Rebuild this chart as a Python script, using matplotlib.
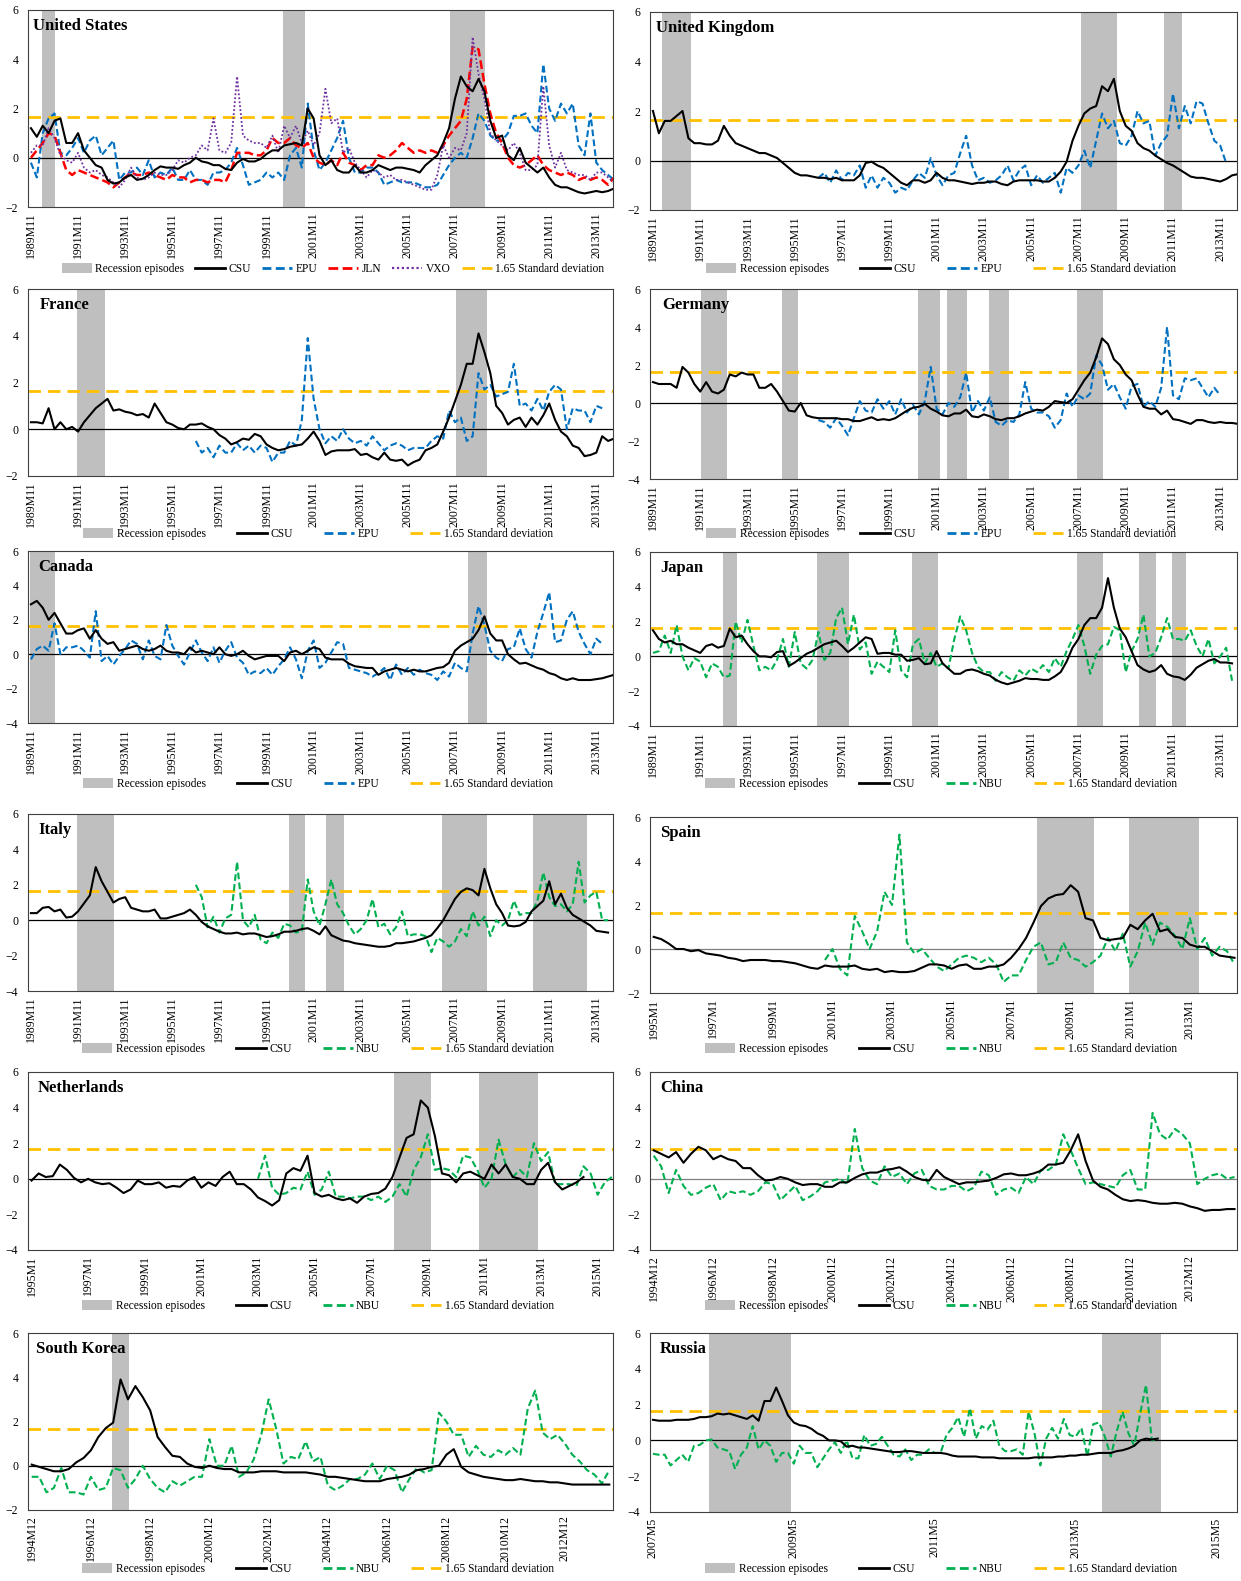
import matplotlib
matplotlib.use("Agg")
import matplotlib.pyplot as plt
import numpy as np
from matplotlib.patches import Patch
from matplotlib.lines import Line2D

plt.rcParams['font.family'] = ['Liberation Serif', 'DejaVu Serif']

W, H = 1241, 1581

# ---------------- data ----------------
# United States: quarterly readings from 1989M11
us_csu = [1.2, 0.85, 1.3, 1.0, 1.5, 1.6, 0.6, 0.6, 1.0, 0.3,
          0.0, -0.3, -0.4, -0.9, -1.05, -1.0, -0.8, -0.7, -0.9, -0.85,
          -0.7, -0.5, -0.35, -0.4, -0.4, -0.45, -0.3, -0.2, 0.0, -0.15,
          -0.2, -0.3, -0.3, -0.45, -0.5, -0.2, -0.05, -0.15, -0.15, -0.05,
          0.15, 0.3, 0.3, 0.5, 0.55, 0.6, 0.5, 2.0, 1.6, 0.1,
          -0.3, -0.1, -0.5, -0.6, -0.6, -0.3, -0.6, -0.6, -0.5, -0.3,
          -0.4, -0.5, -0.4, -0.4, -0.45, -0.5, -0.6, -0.3, -0.1, 0.1,
          0.6, 1.2, 2.4, 3.3, 2.9, 2.7, 3.2, 2.7, 1.5, 0.8,
          0.9, 0.1, -0.1, 0.4, -0.2, -0.4, -0.6, -0.4, -0.8, -1.1,
          -1.2, -1.2, -1.3, -1.4, -1.45, -1.4, -1.35, -1.4, -1.35, -1.25]
us_epu = [-0.2, -0.8, 1.0, 1.6, 1.8, 0.2, 0.1, 0.4, 0.8, 0.2,
          0.7, 0.9, 0.1, 0.4, 0.7, -0.9, -0.6, -0.6, -0.4, -0.7,
          -0.1, -0.8, -0.6, -0.7, -0.4, -0.9, -0.9, -0.5, -0.9, -0.9,
          -1.1, -0.6, -0.6, -0.5, -0.2, 0.4, -0.3, -1.1, -1.0, -0.9,
          -0.6, -0.8, -0.6, -0.9, 0.1, 0.4, -0.4, 2.2, 0.3, -0.5,
          -0.2, 0.3, 0.8, 1.5, 0.0, -0.6, -0.6, -0.4, -0.4, -0.6,
          -1.1, -1.0, -0.9, -1.0, -1.0, -1.0, -1.1, -1.2, -1.2, -1.1,
          -0.7, -0.3, 0.0, 0.2, 0.0, 0.8, 1.8, 1.5, 0.9, 0.7,
          0.7, 1.0, 1.7, 1.7, 1.8, 1.3, 1.0, 3.8, 2.0, 1.5,
          2.2, 1.8, 2.2, 0.5, 0.1, 1.8, -0.2, -0.5, -0.7, -0.9]
us_jln = [0.0, 0.3, 0.6, 1.0, 0.9, 0.2, -0.5, -0.7, -0.5, -0.6,
          -0.7, -0.8, -0.9, -1.0, -1.2, -1.0, -0.8, -0.6, -0.7, -0.7,
          -0.6, -0.7, -0.8, -0.9, -0.7, -0.8, -0.8, -1.0, -0.9, -0.9,
          -1.0, -0.9, -0.9, -1.0, -0.5, 0.2, 0.2, 0.2, 0.1, 0.1,
          0.3, 0.8, 0.6, 0.6, 0.8, 0.5, 0.4, 0.6, 0.0, -0.2,
          -0.3, -0.1, -0.3, 0.2, -0.2, -0.3, -0.5, -0.3, -0.3, 0.1,
          0.0, 0.1, 0.3, 0.6, 0.4, 0.2, 0.3, 0.2, 0.3, 0.2,
          0.5, 0.9, 1.2, 1.5, 2.4, 4.5, 4.4, 3.0, 1.8, 1.0,
          0.6, 0.0, -0.3, -0.4, -0.3, -0.1, 0.1, -0.3, -0.5, -0.6,
          -0.7, -0.6, -0.7, -0.9, -0.8, -0.9, -0.8, -0.9, -1.1, -0.8]
us_vxo = [0.2, 0.5, 0.5, 1.2, 0.8, 0.1, -0.1, -0.2, 0.2, -0.4,
          -0.6, -0.5, -0.7, -0.8, -1.0, -1.2, -0.9, -0.4, -0.8, -0.9,
          -0.8, -0.6, -0.7, -0.7, -0.5, -0.1, -0.2, 0.0, 0.1, 0.5,
          0.3, 1.6, 0.3, 0.2, 0.6, 3.3, 0.9, 0.7, 0.6, 0.6,
          0.4, 0.9, 0.2, 1.3, 0.8, 1.3, 0.6, 1.1, 0.5, 1.0,
          2.8, 1.4, 1.6, 0.2, 0.4, -0.2, -0.5, -0.8, -0.5, -0.6,
          -0.8, -0.7, -0.9, -0.9, -1.0, -1.1, -1.2, -1.3, -1.3, -0.7,
          0.5, 0.0, 0.4, 0.3, 1.0, 4.9, 3.4, 2.4, 1.0, 0.7,
          0.5, 0.3, 0.6, 0.2, -0.5, -0.5, -0.3, 2.9, 0.5, -0.4,
          0.2, -0.5, -0.6, -0.7, -0.7, -0.9, -0.6, -0.6, -0.8, -1.0]
us_rec = [("1990M5", "1990M11"), ("2000M8", "2001M6"), ("2007M9", "2009M2")]

# United Kingdom
uk_csu = [2.0, 1.1, 1.6, 1.6, 1.8, 2.0, 0.9, 0.7, 0.7, 0.65,
          0.65, 0.8, 1.4, 1.0, 0.7, 0.6, 0.5, 0.4, 0.3, 0.3,
          0.2, 0.1, -0.1, -0.3, -0.5, -0.6, -0.6, -0.65, -0.7, -0.7,
          -0.75, -0.7, -0.8, -0.8, -0.8, -0.6, -0.1, -0.05, -0.2, -0.3,
          -0.5, -0.7, -0.9, -1.0, -0.8, -0.8, -0.9, -0.8, -0.5, -0.7,
          -0.8, -0.8, -0.85, -0.9, -0.95, -0.9, -0.9, -0.85, -0.85, -0.95,
          -1.0, -0.85, -0.8, -0.8, -0.8, -0.8, -0.85, -0.85, -0.7, -0.45,
          -0.05, 0.8, 1.4, 1.9, 2.1, 2.2, 3.0, 2.8, 3.3, 2.0,
          1.4, 1.2, 0.7, 0.5, 0.4, 0.2, 0.05, -0.1, -0.2, -0.35,
          -0.5, -0.65, -0.7, -0.7, -0.75, -0.8, -0.85, -0.75, -0.6, -0.55]
uk_epu = [-0.7, -0.5, -0.9, -0.4, -0.8, -0.5, -0.6, -0.2, -1.1, -0.6,
          -1.1, -0.7, -0.9, -1.3, -1.1, -1.2, -0.8, -0.5, -0.7, 0.1,
          -0.6, -1.0, -0.6, -0.5, 0.3, 1.0, -0.2, -0.8, -0.7, -0.9,
          -0.8, -0.6, -0.2, -0.8, -0.4, -0.2, -1.0, -0.6, -0.9, -0.7,
          -0.5, -1.3, -0.3, -0.5, -0.2, 0.4, -0.3, 0.8, 1.9, 1.3,
          1.6, 0.7, 0.6, 1.0, 2.0, 1.5, 1.6, 0.2, 0.7, 1.0,
          2.7, 1.3, 2.2, 1.5, 2.4, 2.3, 1.5, 0.8, 0.6, -0.1]
uk_rec = [("1990M4", "1991M6"), ("2008M1", "2009M6"), ("2011M7", "2012M3")]

# France
fr_csu = [0.3, 0.3, 0.25, 0.9, 0.0, 0.3, 0.0, 0.1, -0.1, 0.3,
          0.6, 0.9, 1.1, 1.3, 0.8, 0.85, 0.75, 0.7, 0.6, 0.65,
          0.5, 1.1, 0.7, 0.3, 0.2, 0.05, 0.0, 0.2, 0.2, 0.25,
          0.1, 0.0, -0.25, -0.4, -0.65, -0.55, -0.4, -0.45, -0.2, -0.3,
          -0.65, -0.8, -0.9, -0.85, -0.75, -0.7, -0.65, -0.4, -0.1, -0.5,
          -1.1, -0.95, -0.9, -0.9, -0.9, -0.85, -1.1, -1.05, -1.2, -1.3,
          -1.0, -1.3, -1.35, -1.3, -1.55, -1.4, -1.3, -0.9, -0.8, -0.65,
          -0.1, 0.5, 1.2, 1.9, 2.8, 2.8, 4.1, 3.3, 2.4, 1.0,
          0.7, 0.2, 0.4, 0.5, 0.1, 0.5, 0.2, 0.6, 1.1, 0.4,
          -0.1, -0.3, -0.7, -0.8, -1.15, -1.1, -1.0, -0.3, -0.5, -0.4]
fr_epu = [-0.5, -1.0, -0.8, -1.2, -0.7, -1.0, -1.0, -0.6, -0.9, -0.7,
          -1.0, -0.7, -0.8, -1.4, -1.0, -1.0, -0.5, -0.7, 0.4, 3.9,
          1.3, 0.0, -0.6, -0.3, -0.5, 0.0, -0.4, -0.6, -0.5, -0.7,
          -0.3, -0.6, -0.9, -0.7, -0.6, -0.7, -0.9, -0.8, -0.8, -0.8,
          -0.5, -0.3, -0.4, 0.8, 0.3, 0.5, -0.5, -0.3, 2.4, 1.7,
          1.9, 1.4, 1.5, 1.6, 2.8, 1.0, 1.1, 0.8, 1.3, 0.8,
          1.6, 1.9, 1.7, 0.0, 0.9, 0.8, 0.8, 0.3, 1.0, 0.9]
fr_rec = [("1991M11", "1992M12"), ("2007M12", "2009M3")]

# Germany
de_csu = [1.1, 1.0, 1.0, 1.0, 0.8, 1.9, 1.6, 1.0, 0.6, 1.1,
          0.6, 0.5, 0.7, 1.5, 1.4, 1.6, 1.5, 1.5, 0.8, 0.8,
          1.0, 0.6, 0.1, -0.4, -0.45, 0.0, -0.65, -0.75, -0.8, -0.8,
          -0.8, -0.8, -0.85, -0.85, -0.95, -0.95, -0.85, -0.75, -0.9, -0.85,
          -0.9, -0.8, -0.6, -0.4, -0.25, -0.2, -0.05, -0.3, -0.45, -0.65,
          -0.7, -0.55, -0.55, -0.35, -0.7, -0.75, -0.6, -0.7, -0.85, -0.9,
          -0.8, -0.8, -0.7, -0.55, -0.45, -0.35, -0.4, -0.2, 0.1, 0.05,
          0.0, 0.2, 0.7, 1.2, 1.6, 2.4, 3.4, 3.1, 2.3, 2.0,
          1.5, 1.2, 0.45, -0.2, -0.3, -0.3, -0.6, -0.4, -0.85, -0.9,
          -1.0, -1.1, -0.9, -0.9, -1.0, -1.05, -1.0, -1.05, -1.05, -1.1]
de_epu = [-0.9, -1.0, -1.3, -0.8, -1.2, -1.7, -0.8, 0.1, -0.4, -0.5,
          0.2, -0.3, 0.1, -0.6, 0.2, -0.5, -0.1, -0.6, 0.1, 1.9,
          -0.3, -0.6, 0.0, -0.2, 0.3, 1.6, -0.5, 0.1, -0.4, 0.3,
          -1.0, -1.2, -0.9, -1.0, -0.6, 1.1, -0.3, -0.5, -0.5, -0.7,
          -1.3, -0.9, 0.5, -0.2, 0.4, 0.2, 0.5, 2.5, 2.0, 0.7,
          1.0, 0.3, -0.3, 0.9, 1.0, -0.2, 0.1, -0.2, 0.8, 4.0,
          0.4, 0.2, 1.3, 1.2, 1.3, 0.8, 0.3, 0.8, 0.4]
de_rec = [("1991M12", "1992M12"), ("1995M5", "1995M12"), ("2001M2", "2001M12"),
          ("2002M5", "2003M2"), ("2004M2", "2004M11"), ("2007M11", "2008M11")]

# Canada
ca_csu = [2.9, 3.1, 2.7, 2.0, 2.4, 1.8, 1.2, 1.2, 1.4, 1.5,
          0.9, 1.4, 0.9, 0.6, 0.7, 0.2, 0.3, 0.4, 0.5, 0.3,
          0.2, 0.3, 0.5, 0.2, 0.1, 0.1, 0.0, 0.4, 0.1, 0.2,
          0.1, 0.0, 0.4, 0.0, -0.1, 0.0, 0.2, -0.1, -0.3, -0.2,
          -0.1, -0.1, -0.1, -0.4, 0.1, 0.2, 0.0, 0.2, 0.4, 0.3,
          -0.2, -0.3, -0.3, -0.3, -0.55, -0.7, -0.75, -0.8, -0.8, -1.2,
          -1.0, -0.9, -0.8, -0.9, -1.0, -0.9, -1.0, -1.0, -0.9, -0.8,
          -0.75, -0.5, 0.2, 0.5, 0.7, 0.9, 1.4, 2.2, 1.2, 0.8,
          0.8, 0.0, -0.3, -0.55, -0.5, -0.65, -0.8, -0.9, -1.1, -1.2,
          -1.4, -1.5, -1.4, -1.5, -1.5, -1.5, -1.45, -1.4, -1.3, -1.2]
ca_epu = [-0.3, 0.3, 0.5, 0.2, 1.8, 0.0, 0.4, 0.4, 0.5, 0.2,
          -0.2, 2.5, -0.4, -0.1, -0.6, -0.1, 0.3, 0.8, 0.6, -0.3,
          0.8, -0.1, -0.3, 1.7, 0.5, -0.1, -0.6, 0.1, 0.8, 0.1,
          -0.4, 0.4, -0.5, 0.2, 0.7, -0.2, -0.5, -1.2, -1.0, -1.1,
          -0.8, -1.2, -0.7, -0.3, 0.4, -0.3, -1.4, 0.2, 0.8, -0.8,
          -0.5, 0.1, 0.7, 0.6, -0.8, -0.9, -1.0, -1.1, -1.3, -1.1,
          -0.8, -1.5, -0.6, -1.2, -0.8, -1.2, -0.9, -1.1, -1.2, -1.5,
          -1.0, -1.3, -0.5, -0.8, -1.0, 1.2, 2.8, 1.7, 0.2, -0.2,
          -0.4, 0.3, 0.4, 1.5, 0.3, -0.2, 1.3, 2.4, 3.6, 0.7,
          0.8, 2.0, 2.5, 1.3, 0.6, 0.0, 0.9, 0.6]
ca_rec = [("1989M11", "1990M11"), ("2008M6", "2009M3")]

# Japan
jp_csu = [1.5, 1.0, 0.8, 0.9, 0.7, 0.7, 0.5, 0.35, 0.2, 0.6,
          0.7, 0.5, 0.6, 1.6, 1.1, 1.2, 0.7, 0.3, 0.0, 0.0,
          -0.05, 0.25, 0.3, -0.55, -0.35, -0.1, 0.15, 0.3, 0.5, 0.7,
          0.8, 0.9, 0.6, 0.25, 0.5, 0.8, 1.1, 1.0, 0.15, 0.2,
          0.2, 0.1, 0.1, -0.25, -0.2, -0.1, -0.45, -0.4, 0.3, -0.4,
          -0.7, -1.0, -1.0, -0.8, -0.75, -0.85, -1.0, -1.1, -1.35, -1.5,
          -1.6, -1.5, -1.4, -1.25, -1.3, -1.3, -1.35, -1.35, -1.15, -0.9,
          -0.3, 0.5, 1.0, 1.8, 2.2, 2.2, 2.8, 4.5, 2.8, 1.6,
          1.1, 0.3, -0.5, -0.75, -0.9, -0.8, -0.5, -1.0, -1.15, -1.2,
          -1.35, -1.05, -0.65, -0.45, -0.25, -0.15, -0.35, -0.35, -0.4]
jp_nbu = [0.2, 0.3, 1.2, 0.2, 1.8, 0.0, -0.8, -0.1, -0.3, -1.2,
          -0.4, -0.6, -1.2, -1.1, 2.0, 0.8, 2.1, 0.6, -0.8, -0.6,
          -0.8, -0.2, 1.0, -0.6, 1.4, -0.4, -0.7, -0.2, 1.4, -0.2,
          0.2, 2.2, 2.8, 0.7, 2.4, 0.4, 0.8, -1.0, -0.3, -0.6,
          -0.9, 1.5, -0.8, -1.2, 0.7, 1.0, -0.4, 0.2, -0.6, -0.4,
          -0.7, 1.0, 2.3, 1.5, 0.2, -0.6, -0.9, -0.9, -1.4, -0.9,
          -1.2, -1.4, -0.8, -1.1, -0.7, -0.9, -0.5, -0.9, -0.1, -0.6,
          0.3, 1.0, 1.8, 0.6, -1.0, 0.1, 0.6, 0.7, 1.7, 1.5,
          -0.9, 0.3, 1.0, 2.4, 0.0, 0.2, 1.1, 2.2, 1.0, 1.0,
          0.9, 1.5, 0.6, 0.0, 1.0, -0.4, 0.0, 0.5, -1.4]
jp_rec = [("1992M11", "1993M5"), ("1996M11", "1998M2"), ("2000M11", "2001M11"),
          ("2007M11", "2008M11"), ("2010M6", "2011M2"), ("2011M11", "2012M5")]

# Italy
it_csu = [0.4, 0.4, 0.7, 0.75, 0.5, 0.6, 0.15, 0.2, 0.5, 0.95,
          1.4, 3.0, 2.2, 1.6, 1.0, 1.2, 1.3, 0.7, 0.6, 0.5,
          0.5, 0.6, 0.1, 0.1, 0.2, 0.3, 0.4, 0.6, 0.3, -0.1,
          -0.35, -0.5, -0.65, -0.75, -0.75, -0.7, -0.8, -0.75, -0.75, -0.85,
          -0.95, -0.9, -0.8, -0.65, -0.65, -0.6, -0.5, -0.45, -0.6, -0.8,
          -0.35, -0.85, -1.0, -1.15, -1.2, -1.3, -1.35, -1.4, -1.45, -1.5,
          -1.5, -1.45, -1.3, -1.3, -1.25, -1.2, -1.1, -1.0, -0.85, -0.45,
          0.0, 0.6, 1.2, 1.6, 1.8, 1.7, 1.4, 2.9, 1.8, 0.9,
          0.4, -0.3, -0.35, -0.3, -0.1, 0.5, 0.8, 1.1, 2.2, 0.9,
          1.5, 0.7, 0.3, 0.1, -0.1, -0.3, -0.6, -0.65, -0.7]
it_nbu = [2.0, 1.3, -0.4, 0.2, -0.7, 0.1, 0.3, 3.3, 0.0, -0.4,
          0.3, -1.1, -1.3, -0.7, -1.0, -0.2, -0.3, -0.7, -0.6, 2.3,
          0.5, -0.3, 0.9, 2.3, 0.9, 0.4, -0.3, -0.8, -0.5, 0.0,
          1.2, -0.4, -0.2, -0.8, -0.4, 0.5, -0.9, -0.8, -0.8, -0.9,
          -1.8, -1.0, -1.2, -1.5, -1.2, -0.5, -0.9, 0.5, -0.3, 0.2,
          -0.9, 0.0, -0.3, 0.0, 1.1, 0.3, 0.4, 0.4, 1.1, 2.7,
          1.3, 0.8, 0.9, 0.5, 0.9, 3.3, 1.0, 1.4, 1.6, 0.0, 0.0]
it_rec = [("1991M11", "1993M5"), ("2000M11", "2001M6"), ("2002M6", "2003M2"),
          ("2007M5", "2009M3"), ("2011M3", "2013M6")]

# Spain: quarterly from 1995M1
es_csu = [0.55, 0.45, 0.25, 0.0, 0.0, -0.1, -0.05, -0.2, -0.25, -0.3,
          -0.4, -0.45, -0.55, -0.5, -0.5, -0.5, -0.55, -0.55, -0.6, -0.65,
          -0.75, -0.85, -0.9, -0.75, -0.8, -0.8, -0.8, -0.75, -0.9, -0.95,
          -0.9, -1.05, -1.0, -1.05, -1.05, -1.0, -0.85, -0.7, -0.7, -0.75,
          -0.9, -0.75, -0.7, -0.9, -0.9, -0.8, -0.8, -0.7, -0.4, 0.0,
          0.5, 1.2, 1.95, 2.3, 2.45, 2.5, 2.9, 2.6, 1.4, 1.3,
          0.5, 0.4, 0.45, 0.5, 1.1, 0.9, 1.3, 1.6, 0.8, 0.9,
          0.55, 0.5, 0.2, 0.1, 0.1, -0.1, -0.3, -0.35, -0.4]
es_nbu = [-0.5, 0.0, -0.9, -1.2, 1.5, 0.8, 0.0, 0.8, 2.6, 2.0,
          5.2, 0.3, -0.2, 0.0, -0.4, -0.8, -1.0, -0.7, -0.4, -0.3,
          -0.4, -0.6, -0.4, -0.7, -1.5, -1.2, -1.2, -0.5, 0.1, 0.3,
          -0.7, -0.6, 0.3, -0.4, -0.5, -0.8, -0.6, -0.3, 0.5, -0.1,
          0.7, -0.8, -0.1, 1.2, 0.2, 1.2, 1.0, 0.6, 0.0, 1.4,
          0.0, 0.5, -0.3, 0.1, -0.1, -0.7]
es_rec = [("2007M12", "2009M10"), ("2011M1", "2013M4")]

# Netherlands: quarterly from 1995M1
nl_csu = [-0.1, 0.3, 0.1, 0.15, 0.8, 0.5, 0.05, -0.2, 0.0, -0.2,
          -0.3, -0.25, -0.5, -0.8, -0.6, -0.1, -0.3, -0.3, -0.2, -0.5,
          -0.4, -0.45, -0.1, 0.1, -0.5, -0.2, -0.4, 0.1, 0.4, -0.3,
          -0.3, -0.6, -1.05, -1.25, -1.5, -1.2, 0.3, 0.6, 0.45, 1.3,
          -0.8, -1.0, -0.9, -1.1, -1.2, -1.1, -1.35, -1.0, -0.85, -0.8,
          -0.55, 0.1, 1.2, 2.3, 2.5, 4.4, 4.0, 2.4, 0.3, 0.2,
          -0.2, 0.3, 0.4, 0.2, 0.0, 0.8, 0.3, 0.8, 0.1, 0.0,
          -0.3, -0.3, 0.5, 0.9, -0.2, -0.6, -0.4, -0.2, 0.1]
nl_nbu = [0.0, 1.3, -0.5, -0.9, -0.8, -0.5, -0.6, 0.4, -0.9, -0.6,
          0.4, -1.0, -1.0, -1.1, -1.0, -1.0, -1.2, -1.0, -1.3, -1.0,
          -0.3, -1.0, 0.5, 1.2, 2.5, 0.5, 0.6, 0.5, 0.1, 1.3,
          1.2, 0.5, -0.5, 0.0, 2.2, 0.8, 0.1, 0.5, 0.1, 2.0,
          1.0, 1.5, -0.3, -0.3, -0.3, -0.4, 0.7, 0.3, -0.9, -0.2, 0.1]
nl_rec = [("2007M11", "2009M2"), ("2010M11", "2012M11")]

# China: quarterly from 1994M12
cn_csu = [1.6, 1.4, 1.2, 1.5, 0.9, 1.4, 1.8, 1.6, 1.1, 1.3,
          1.1, 1.0, 0.6, 0.6, 0.2, -0.1, -0.05, 0.1, 0.0, -0.2,
          -0.35, -0.3, -0.3, -0.45, -0.45, -0.2, -0.2, 0.05, 0.25, 0.35,
          0.35, 0.5, 0.55, 0.65, 0.4, 0.1, -0.05, -0.1, 0.5, 0.1,
          -0.1, -0.3, -0.2, -0.2, -0.15, -0.1, 0.05, 0.25, 0.3, 0.2,
          0.2, 0.3, 0.45, 0.8, 0.8, 0.9, 1.6, 2.5, 1.0, -0.1,
          -0.45, -0.6, -0.9, -1.15, -1.25, -1.2, -1.25, -1.35, -1.4, -1.4,
          -1.35, -1.4, -1.55, -1.65, -1.8, -1.75, -1.75, -1.7, -1.7]
cn_nbu = [1.3, 0.7, -0.8, 0.5, -0.4, -0.9, -0.8, -0.5, -0.3, -1.2,
          -0.7, -0.8, -0.7, -0.9, -0.7, -0.2, -0.3, -1.2, -0.8, -0.4,
          -1.2, -1.0, -0.7, -0.2, -0.1, 0.0, -0.3, 2.8, 0.6, -0.1,
          -0.3, 0.7, 0.1, 0.3, -0.3, 0.3, 0.5, -0.4, -0.6, -0.6,
          -0.4, -0.4, -0.7, -0.5, 0.4, 0.2, -0.9, -0.6, -0.5, -0.8,
          0.1, -0.3, 0.5, 0.5, 0.8, 2.5, 1.6, 0.6, -0.3, -0.2,
          -0.3, -0.4, -0.5, 0.2, 0.5, -0.6, -0.6, 3.7, 2.5, 2.2,
          2.8, 2.5, 2.0, -0.3, 0.0, 0.2, 0.3, 0.0, 0.1]
cn_rec = []

# South Korea: quarterly from 1994M12
kr_csu = [0.05, -0.05, -0.15, -0.25, -0.25, -0.15, 0.15, 0.35, 0.7, 1.3,
          1.7, 1.95, 3.9, 3.0, 3.6, 3.1, 2.5, 1.3, 0.85, 0.45,
          0.4, 0.1, -0.05, -0.1, 0.0, -0.1, -0.15, -0.15, -0.3, -0.3,
          -0.3, -0.25, -0.25, -0.25, -0.3, -0.3, -0.3, -0.3, -0.35, -0.4,
          -0.5, -0.5, -0.55, -0.6, -0.65, -0.7, -0.7, -0.7, -0.6, -0.55,
          -0.5, -0.4, -0.2, -0.15, -0.05, 0.0, 0.5, 0.75, -0.05, -0.3,
          -0.4, -0.5, -0.55, -0.6, -0.65, -0.65, -0.6, -0.65, -0.7, -0.7,
          -0.75, -0.75, -0.8, -0.85, -0.85, -0.85, -0.85, -0.85, -0.85]
kr_nbu = [-0.5, -0.5, -1.2, -1.0, -0.1, -1.2, -1.2, -1.3, -0.5, -1.1,
          -1.0, -0.1, -0.2, -1.0, -0.6, 0.0, -0.6, -1.0, -1.2, -0.7,
          -0.9, -0.7, -0.5, -0.5, 1.2, 0.0, 0.0, 0.9, -0.5, -0.3,
          0.3, 1.4, 3.0, 1.7, 0.1, 0.4, 0.3, 1.1, 0.2, 0.4,
          -0.9, -1.1, -0.9, -0.6, -0.6, -0.4, 0.1, -0.6, 0.0, -0.2,
          -1.2, -0.6, -0.1, -0.3, -0.2, 2.4, 2.0, 1.4, 1.4, 0.4,
          0.9, 0.5, 0.4, 0.7, 0.5, 0.8, 0.5, 2.6, 3.4, 1.5,
          1.2, 1.4, 1.0, 0.5, 0.2, -0.2, -0.4, -0.8, -0.2]
kr_rec = [("1997M9", "1998M3")]

# Russia: monthly from 2007M5
ru_csu = [1.15, 1.1, 1.1, 1.1, 1.15, 1.15, 1.15, 1.2, 1.3, 1.3,
          1.35, 1.5, 1.45, 1.5, 1.4, 1.3, 1.2, 1.4, 1.1, 2.2,
          2.2, 2.95, 2.2, 1.4, 1.0, 0.85, 0.8, 0.65, 0.4, 0.25,
          0.0, 0.0, -0.05, -0.35, -0.3, -0.4, -0.4, -0.45, -0.5, -0.55,
          -0.6, -0.65, -0.65, -0.6, -0.6, -0.65, -0.7, -0.7, -0.7, -0.7,
          -0.75, -0.85, -0.9, -0.9, -0.9, -0.9, -0.95, -0.95, -0.95, -1.0,
          -1.0, -1.0, -1.0, -1.0, -1.0, -0.95, -0.95, -0.95, -0.95, -0.9,
          -0.9, -0.85, -0.85, -0.8, -0.8, -0.75, -0.7, -0.7, -0.7, -0.6,
          -0.55, -0.45, -0.3, 0.0, 0.1, 0.05, 0.1]
ru_nbu = [-0.75, -0.8, -0.8, -1.4, -1.1, -0.8, -1.2, -0.3, -0.25, 0.0,
          0.05, -0.4, -0.5, -0.6, -1.6, -0.8, -0.4, 0.8, -0.5, 0.0,
          -0.3, -1.2, -0.7, -0.7, -1.3, -0.3, -0.7, -0.7, -1.5, -1.0,
          -0.5, -0.1, -0.7, 0.0, -1.0, -1.0, 0.3, -0.3, -0.2, 0.2,
          -0.3, -0.8, -0.9, -0.5, -1.1, -0.8, -0.8, -0.5, -0.7, -0.7,
          0.3, 0.7, 1.3, 0.2, 1.8, 0.1, 0.8, 0.6, 1.1, -0.3,
          -0.6, -0.6, -0.5, -0.8, 1.6, 0.4, -1.4, 0.1, 0.7, 0.1,
          1.2, 0.3, 0.2, 0.7, -0.9, 0.9, 1.0, 0.2, -0.9, 0.5,
          1.6, 0.4, -0.3, 1.5, 3.1, 0.0, 0.1]
ru_rec = [("2008M3", "2009M4"), ("2013M10", "2014M7")]

sd_level = 1.65

# ---------------- styling ----------------
C_CSU, C_EPU, C_NBU = "black", "#0070C0", "#00B050"
C_JLN, C_VXO, C_SD, C_REC = "#FF0000", "#7030A0", "#FFC000", "#BFBFBF"
STYLE = {
    "CSU": dict(color=C_CSU, lw=1.5, ls="-", zorder=4),
    "EPU": dict(color=C_EPU, lw=1.5, ls=(0, (3.2, 1.6)), zorder=3),
    "NBU": dict(color=C_NBU, lw=1.5, ls=(0, (3.2, 1.6)), zorder=3),
    "JLN": dict(color=C_JLN, lw=1.8, ls=(0, (3.5, 1.6)), zorder=3),
    "VXO": dict(color=C_VXO, lw=1.3, ls=(0, (1, 1.2)), zorder=3),
}


def midx(label):
    y, m = label.split("M")
    return int(y) * 12 + int(m) - 1


def xs(start, n, step, origin):
    return midx(start) - midx(origin) + step * np.arange(n)


L_COL, R_COL = (28, 613), (650, 1237)
panels = [
    ("United States", "1989M11", 296.5, (-2, 6), us_rec,
     [("CSU", us_csu, "1989M11", 3), ("EPU", us_epu, "1989M11", 3),
      ("JLN", us_jln, "1989M11", 3), ("VXO", us_vxo, "1989M11", 3)],
     L_COL, (10, 207), 269, 333, "black", 5),
    ("United Kingdom", "1989M11", 296.5, (-2, 6), uk_rec,
     [("CSU", uk_csu, "1989M11", 3), ("EPU", uk_epu, "1996M11", 3)],
     R_COL, (12, 210), 269, 941, "black", 6),
    ("France", "1989M11", 296.5, (-2, 6), fr_rec,
     [("CSU", fr_csu, "1989M11", 3), ("EPU", fr_epu, "1996M11", 3)],
     L_COL, (289, 476), 534, 318, "black", 12),
    ("Germany", "1989M11", 296.5, (-4, 6), de_rec,
     [("CSU", de_csu, "1989M11", 3), ("EPU", de_epu, "1996M11", 3)],
     R_COL, (289, 479), 534, 941, "black", 12),
    ("Canada", "1989M11", 296.5, (-4, 6), ca_rec,
     [("CSU", ca_csu, "1989M11", 3), ("EPU", ca_epu, "1989M11", 3)],
     L_COL, (551, 723), 784, 318, "black", 10),
    ("Japan", "1989M11", 296.5, (-4, 6), jp_rec,
     [("CSU", jp_csu, "1989M11", 3), ("NBU", jp_nbu, "1989M11", 3)],
     R_COL, (552, 726), 784, 941, "black", 10),
    ("Italy", "1989M11", 296.5, (-4, 6), it_rec,
     [("CSU", it_csu, "1989M11", 3), ("NBU", it_nbu, "1996M11", 3)],
     L_COL, (814, 991), 1049, 318, "black", 10),
    ("Spain", "1995M1", 235.0, (-2, 6), es_rec,
     [("CSU", es_csu, "1995M1", 3), ("NBU", es_nbu, "2000M10", 3)],
     R_COL, (817, 993), 1049, 941, "#7F7F7F", 10),
    ("Netherlands", "1995M1", 246.5, (-4, 6), nl_rec,
     [("CSU", nl_csu, "1995M1", 3), ("NBU", nl_nbu, "2003M1", 3)],
     L_COL, (1072, 1250), 1306, 318, "black", 10),
    ("China", "1994M12", 235.0, (-4, 6), cn_rec,
     [("CSU", cn_csu, "1994M12", 3), ("NBU", cn_nbu, "1994M12", 3)],
     R_COL, (1072, 1250), 1306, 941, "#7F7F7F", 10),
    ("South Korea", "1994M12", 235.5, (-2, 6), kr_rec,
     [("CSU", kr_csu, "1994M12", 3), ("NBU", kr_nbu, "1994M12", 3)],
     L_COL, (1333, 1510), 1569, 318, "black", 8),
    ("Russia", "2007M5", 99.5, (-4, 6), ru_rec,
     [("CSU", ru_csu, "2007M5", 1), ("NBU", ru_nbu, "2007M5", 1)],
     R_COL, (1333, 1512), 1569, 941, "black", 10),
]

fig = plt.figure(figsize=(W / 100, H / 100), dpi=100)

for (title, origin, xmax, ylim, rec, series, (l, r), (t, b), leg_y, leg_x, zc, toff) in panels:
    ax = fig.add_axes([l / W, 1 - b / H, (r - l) / W, (b - t) / H])
    xmin = -1.5 if xmax > 120 else -0.5
    for s, e in rec:
        ax.axvspan(midx(s) - midx(origin) - 0.5, midx(e) - midx(origin) + 0.5,
                   color=C_REC, lw=0, zorder=0)
    ax.axhline(0, color=zc, lw=0.9, zorder=1)
    ax.axhline(sd_level, color=C_SD, lw=2.0, ls=(0, (4.5, 2.5)), zorder=2)
    for name, vals, start, step in series:
        x = xs(start, len(vals), step, origin)
        ax.plot(x, vals, **STYLE[name])
    ax.set_xlim(xmin, xmax)
    ax.set_ylim(*ylim)
    ax.set_yticks(np.arange(ylim[0], ylim[1] + 1, 2))
    o = midx(origin)
    ticks = np.arange(0, int(xmax) + 1, 24)
    labels = [f"{(o + tk) // 12}M{(o + tk) % 12 + 1}" for tk in ticks]
    ax.set_xticks(ticks)
    ax.set_xticklabels(labels, rotation=90, fontsize=8.5, va="top", ha="center")
    ax.tick_params(axis="both", length=0, labelsize=8.5)
    ax.tick_params(axis="x", pad=4)
    ax.tick_params(axis="y", pad=7)
    for sp in ax.spines.values():
        sp.set_color("#404040")
        sp.set_linewidth(0.8)
    ax.text(toff / (r - l), 1 - 16 / (b - t), title, transform=ax.transAxes,
            fontsize=12, fontweight="bold", va="center", ha="left", zorder=6)

    handles = [Patch(facecolor=C_REC, edgecolor="none", label="Recession episodes")]
    for name, *_ in series:
        st = STYLE[name]
        handles.append(Line2D([], [], color=st["color"], lw=2.0 if name != "VXO" else 1.6,
                              ls=st["ls"], label=name))
    handles.append(Line2D([], [], color=C_SD, lw=2.0, ls=(0, (4.5, 2.5)),
                          label="1.65 Standard deviation"))
    nh = len(handles)
    fig.legend(handles=handles, loc="center", ncol=nh,
               bbox_to_anchor=(leg_x / W, 1 - leg_y / H), frameon=False,
               fontsize=8.3, handlelength=2.6, handleheight=0.9,
               handletextpad=0.3, columnspacing=0.95 if nh > 4 else 2.7,
               borderaxespad=0, borderpad=0)

fig.savefig("out.png", dpi=100)
